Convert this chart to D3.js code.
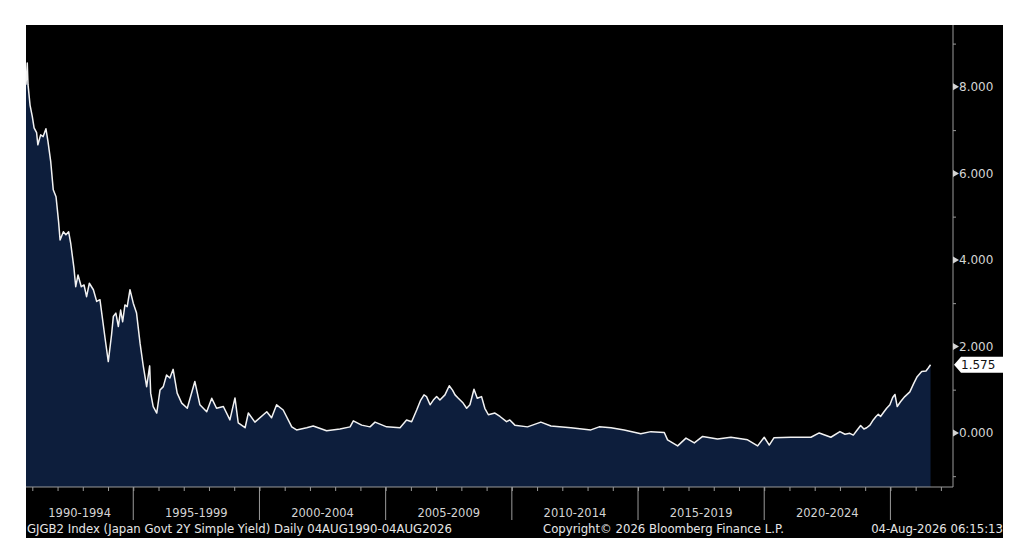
<!DOCTYPE html>
<html>
<head>
<meta charset="utf-8">
<script src="https://cdn.jsdelivr.net/npm/d3@7"></script>
<style>
  body { margin: 0; background: #fff; }
  svg { display: block; }
  text { font-family: "DejaVu Sans", Verdana, sans-serif; }
</style>
</head>
<body>
<svg id="chart" width="1024" height="555"></svg>
<script>
// decimal year of each reading
const yearFrac = [
  1990.75, 1990.80, 1990.83, 1990.91, 1991.00, 1991.07, 1991.17, 1991.22, 1991.33, 1991.43,
  1991.54, 1991.62, 1991.73, 1991.83, 1991.94, 1992.04, 1992.10, 1992.23, 1992.33, 1992.44,
  1992.52, 1992.65, 1992.72, 1992.81, 1992.94, 1993.05, 1993.15, 1993.26, 1993.42, 1993.55,
  1993.68, 1993.88, 1994.01, 1994.14, 1994.21, 1994.31, 1994.41, 1994.50, 1994.58, 1994.67,
  1994.76, 1994.87, 1995.00, 1995.13, 1995.27, 1995.40, 1995.53, 1995.65, 1995.69, 1995.79,
  1995.93, 1996.06, 1996.19, 1996.32, 1996.45, 1996.58, 1996.74, 1996.92, 1997.14, 1997.44,
  1997.64, 1997.91, 1998.11, 1998.30, 1998.57, 1998.83, 1999.03, 1999.16, 1999.43, 1999.56,
  1999.82,
  2000.29, 2000.48, 2000.68, 2000.94, 2001.28, 2001.47, 2001.87, 2002.13, 2002.66,
  2003.19, 2003.59, 2003.72, 2004.05, 2004.38, 2004.58,
  2005.04, 2005.57, 2005.83, 2006.03, 2006.23, 2006.39, 2006.52, 2006.62, 2006.76, 2006.89,
  2007.02, 2007.15, 2007.35, 2007.52, 2007.65, 2007.75, 2007.88, 2008.07, 2008.21, 2008.34,
  2008.50, 2008.63, 2008.80, 2008.93, 2009.07, 2009.33, 2009.53, 2009.79, 2009.92, 2010.12,
  2010.62, 2011.15, 2011.55, 2012.34, 2013.13, 2013.46, 2013.93, 2014.45, 2014.98,
  2015.11, 2015.51, 2016.04, 2016.17, 2016.57, 2016.90, 2017.23, 2017.56, 2018.15, 2018.68,
  2019.34, 2019.74, 2020.00, 2020.20, 2020.39, 2021.05, 2021.85, 2022.18, 2022.64,
  2023.00, 2023.20, 2023.39, 2023.53, 2023.66, 2023.82, 2023.95, 2024.06, 2024.19, 2024.32,
  2024.43, 2024.52, 2024.61, 2024.71, 2024.85, 2024.98, 2025.09, 2025.18, 2025.27, 2025.40,
  2025.57, 2025.77, 2025.93, 2026.06, 2026.24, 2026.41, 2026.50, 2026.59
];

// GJGB2 yield (%)
const yieldPct = [
  8.05, 8.55, 8.05, 7.58, 7.31, 7.05, 6.94, 6.66, 6.89, 6.85,
  7.03, 6.74, 6.27, 5.62, 5.46, 4.89, 4.46, 4.65, 4.58, 4.65,
  4.39, 3.81, 3.38, 3.65, 3.38, 3.42, 3.15, 3.46, 3.31, 3.04,
  3.08, 2.20, 1.65, 2.27, 2.69, 2.77, 2.46, 2.84, 2.57, 2.96,
  2.92, 3.31, 3.00, 2.77, 2.07, 1.53, 1.07, 1.55, 0.92, 0.61,
  0.46, 0.99, 1.07, 1.34, 1.27, 1.47, 0.92, 0.69, 0.57, 1.19,
  0.65, 0.49, 0.80, 0.57, 0.61, 0.30, 0.81, 0.23, 0.12, 0.46,
  0.25,
  0.49, 0.35, 0.65, 0.53, 0.14, 0.07, 0.12, 0.16, 0.05,
  0.09, 0.14, 0.28, 0.18, 0.14, 0.25,
  0.14, 0.12, 0.30, 0.26, 0.53, 0.76, 0.88, 0.84, 0.65, 0.76,
  0.84, 0.76, 0.88, 1.09, 0.99, 0.88, 0.80, 0.69, 0.57, 0.65,
  1.01, 0.80, 0.84, 0.57, 0.42, 0.46, 0.38, 0.26, 0.30, 0.18,
  0.14, 0.25, 0.16, 0.12, 0.07, 0.14, 0.12, 0.07, 0.00,
  -0.02, 0.03, 0.01, -0.16, -0.30, -0.12, -0.23, -0.08, -0.14, -0.10,
  -0.16, -0.30, -0.10, -0.28, -0.11, -0.10, -0.10, 0.00, -0.10,
  0.03, -0.03, -0.01, -0.05, 0.05, 0.17, 0.09, 0.12, 0.18, 0.30,
  0.38, 0.43, 0.38, 0.46, 0.57, 0.65, 0.82, 0.89, 0.61, 0.72,
  0.84, 0.95, 1.15, 1.30, 1.42, 1.43, 1.50, 1.575
];

const bandStarts = [1990, 1995, 2000, 2005, 2010, 2015, 2020, 2025];
const bandLabels = ["1990-1994", "1995-1999", "2000-2004", "2005-2009", "2010-2014", "2015-2019", "2020-2024"];
const yLabelValues = [0, 2, 4, 6, 8];
const yMinorValues = [-1, 0, 1, 2, 3, 4, 5, 6, 7, 8, 9];
const lastValue = 1.575;

const footerLeft = "GJGB2 Index (Japan Govt 2Y Simple Yield) Daily 04AUG1990-04AUG2026";
const footerMid = "Copyright\u00A9 2026 Bloomberg Finance L.P.";
const footerRight = "04-Aug-2026 06:15:13";

const frame = { left: 26, top: 25, right: 1003, bottom: 538 };
const plot = { left: 26, top: 25, right: 953, bottom: 487 };
const fg = "#d4d4d4";

const svg = d3.select("#chart");

svg.append("rect")
  .attr("x", frame.left)
  .attr("y", frame.top)
  .attr("width", frame.right - frame.left)
  .attr("height", frame.bottom - frame.top)
  .attr("fill", "#000");

const x = d3.scaleLinear().domain([1990.75, 2027.48]).range([plot.left, plot.right]);
const y = d3.scaleLinear().domain([-1.25, 9.43]).range([plot.bottom, plot.top]);

const series = yearFrac.map((t, i) => ({ t, v: yieldPct[i] }));

svg.append("path")
  .datum(series)
  .attr("fill", "#0d1e3c")
  .attr("d", d3.area().x((d) => x(d.t)).y0(plot.bottom).y1((d) => y(d.v)));

svg.append("path")
  .datum(series)
  .attr("fill", "none")
  .attr("stroke", "#f2f2f2")
  .attr("stroke-width", 1.5)
  .attr("stroke-linejoin", "round")
  .attr("d", d3.line().x((d) => x(d.t)).y((d) => y(d.v)));

// right axis
const yAxis = svg.append("g")
  .attr("transform", `translate(${plot.right},0)`)
  .call(d3.axisRight(y).tickValues(yMinorValues).tickSize(3).tickFormat(""));
yAxis.select(".domain").attr("stroke", "#9a9a9a").attr("d", `M0,${plot.top}V${plot.bottom}`);
yAxis.selectAll(".tick line").attr("stroke", "#9a9a9a");

const yLab = svg.append("g")
  .selectAll("g")
  .data(yLabelValues)
  .join("g")
  .attr("transform", (d) => `translate(${plot.right},${y(d)})`);
yLab.append("path")
  .attr("d", "M0,-3.5L6,0L0,3.5Z")
  .attr("fill", fg);
yLab.append("text")
  .attr("x", 6)
  .attr("dy", "0.35em")
  .attr("fill", fg)
  .style("font-size", "12px")
  .text((d) => d3.format(".3f")(d));

// last value tag
const tag = svg.append("g").attr("transform", `translate(${plot.right + 1},${y(lastValue)})`);
tag.append("path")
  .attr("d", "M0,0L7,-8H51V8H7Z")
  .attr("fill", "#fff");
tag.append("text")
  .attr("x", 7)
  .attr("dy", "0.36em")
  .attr("fill", "#111")
  .style("font-size", "12px")
  .text(d3.format(".3f")(lastValue));

// bottom axis
const xAxis = svg.append("g")
  .attr("transform", `translate(0,${plot.bottom})`)
  .call(d3.axisBottom(x).tickValues(d3.range(1991, 2028)).tickSize(4).tickFormat(""));
xAxis.select(".domain").attr("stroke", "#9a9a9a").attr("d", `M${plot.left},0H${plot.right}`);
xAxis.selectAll(".tick line").attr("stroke", "#9a9a9a");

svg.append("g")
  .selectAll("line")
  .data(bandStarts.slice(1))
  .join("line")
  .attr("x1", (d) => x(d))
  .attr("x2", (d) => x(d))
  .attr("y1", plot.bottom)
  .attr("y2", plot.bottom + 33)
  .attr("stroke", "#9a9a9a");

svg.append("g")
  .selectAll("text")
  .data(bandLabels)
  .join("text")
  .attr("x", (d, i) => (Math.max(x(bandStarts[i]), plot.left) + x(bandStarts[i + 1])) / 2)
  .attr("y", 517)
  .attr("text-anchor", "middle")
  .attr("fill", fg)
  .style("font-size", "11.5px")
  .text((d) => d);

// footer
const footer = svg.append("g").attr("fill", "#e6e6e6").style("font-size", "11.7px");
footer.append("text").attr("x", frame.left + 1).attr("y", 533).text(footerLeft);
footer.append("text").attr("x", 543).attr("y", 533).text(footerMid);
footer.append("text").attr("x", frame.right).attr("y", 533).attr("text-anchor", "end").text(footerRight);
</script>
</body>
</html>
